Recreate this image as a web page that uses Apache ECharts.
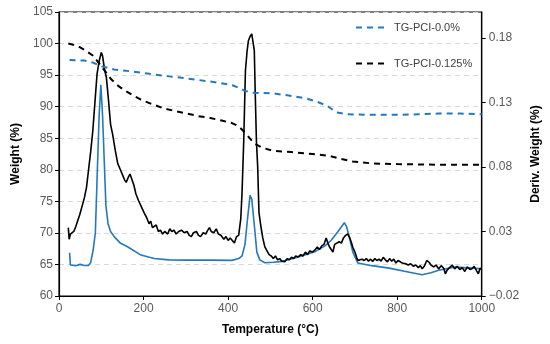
<!DOCTYPE html>
<html>
<head>
<meta charset="utf-8">
<script src="https://cdn.jsdelivr.net/npm/echarts@6/dist/echarts.min.js"></script>
<style>html,body{margin:0;padding:0;background:#fff}#c{width:550px;height:344px}</style>
</head>
<body>
<div id="c"></div>
<script>
// ---- Data ----
const tgT0 = [25,60,80,100,130,170,214,260,300,366,410,425,440,460,507,540,585,610,635,656,680,742,800,850,898,950,1000];
const tgW0 = [97.4,97.3,97.0,96.4,95.9,95.6,95.2,94.8,94.5,93.9,93.4,93.0,92.5,92.2,92.1,91.8,91.3,90.8,90.1,89.1,88.8,88.7,88.7,88.8,88.9,88.9,88.8];

const tgT125 = [22,45,65,80,92,108,124,140,155,175,194,220,249,275,303,330,358,385,409,425,441,455,464,480,507,550,600,640,663,695,742,800,900,1000];
const tgW125 = [100.0,99.6,98.8,98.1,97.1,95.7,94.3,93.3,92.6,91.8,91.1,90.4,89.7,89.3,88.9,88.5,88.2,87.8,87.4,86.9,85.8,84.7,84.1,83.5,83.0,82.8,82.5,82.2,81.8,81.3,81.0,80.9,80.8,80.8];

const dtgT0 = [25,27,40,50,52,60,70,75,81,86,90,95,99,103,107,111,116,122,131,145,163,194,225,260,303,358,409,425,433,440,446,452,456,462,468,475,487,507,527,566,605,630,644,660,675,680,688,695,707,740,781,820,859,880,898,937,970,1000];
const dtgD0 = [0.0135,0.004,0.0035,0.0045,0.0038,0.0036,0.0037,0.006,0.016,0.029,0.07,0.12,0.1437,0.12,0.085,0.05,0.036,0.03,0.0258,0.021,0.018,0.0117,0.0091,0.008,0.0078,0.0078,0.0076,0.009,0.011,0.02,0.04,0.058,0.055,0.035,0.014,0.008,0.0058,0.0062,0.0068,0.0103,0.0142,0.019,0.0232,0.03,0.0368,0.034,0.024,0.014,0.0055,0.0035,0.0016,-0.001,-0.0036,-0.002,0.0,0.0024,0.0018,0.0011];

const dtgT125 = [22,24,27,30,35,40,45,49,55,60,65,70,75,80,85,90,95,100,103,108,112,117,122,127,133,139,145,150,155,159,164,168,172,177,182,188,195,202,207,213,217,221,225,230,235,240,245,250,257,262,267,272,277,283,290,296,303,308,313,318,325,330,335,341,347,352,356,360,366,372,377,383,390,395,400,405,410,415,420,425,430,433,437,441,445,448,452,456,460,462,464,467,470,473,477,482,487,492,497,502,507,512,517,522,527,534,540,545,550,555,560,566,572,577,583,588,593,599,605,611,616,622,627,632,636,640,644,648,652,656,663,668,673,678,683,688,692,695,700,704,707,712,717,722,727,732,737,742,747,752,757,762,767,772,777,782,787,792,797,802,807,812,820,826,832,838,844,850,855,859,864,870,875,880,886,892,898,904,910,914,918,924,930,936,942,948,954,960,966,972,977,982,988,992,996,1000];
const dtgD125 = [0.033,0.024,0.028,0.027,0.030,0.034,0.039,0.043,0.050,0.056,0.064,0.078,0.092,0.108,0.130,0.152,0.162,0.1686,0.166,0.155,0.1495,0.132,0.113,0.105,0.093,0.0825,0.078,0.074,0.070,0.068,0.072,0.0745,0.073,0.066,0.059,0.054,0.049,0.044,0.041,0.036,0.038,0.033,0.032,0.035,0.030,0.031,0.028,0.030,0.028,0.032,0.030,0.031,0.028,0.030,0.031,0.029,0.030,0.027,0.026,0.029,0.030,0.027,0.026,0.029,0.028,0.031,0.033,0.030,0.029,0.032,0.028,0.027,0.024,0.026,0.023,0.025,0.023,0.021,0.026,0.027,0.040,0.060,0.100,0.1545,0.170,0.1777,0.181,0.183,0.184,0.170,0.140,0.100,0.080,0.045,0.035,0.025,0.018,0.015,0.012,0.011,0.009,0.011,0.008,0.009,0.007,0.0065,0.009,0.008,0.010,0.009,0.011,0.0103,0.012,0.011,0.014,0.012,0.015,0.014,0.0155,0.018,0.016,0.019,0.020,0.025,0.021,0.018,0.016,0.014,0.020,0.019,0.022,0.021,0.025,0.027,0.028,0.025,0.021,0.0178,0.014,0.010,0.0076,0.008,0.0085,0.0075,0.009,0.007,0.0085,0.0068,0.009,0.0075,0.0085,0.007,0.010,0.008,0.0065,0.009,0.007,0.0085,0.0055,0.0075,0.0065,0.0055,0.005,0.004,0.005,0.003,0.004,0.002,0.0035,0.0011,0.003,0.0075,0.0063,0.004,0.0025,0.004,0.001,0.0035,0.0015,-0.0028,0.000,0.002,0.004,0.001,0.003,0.0005,0.002,-0.001,0.0025,0.0005,0.0011,0.003,-0.0005,-0.0028,0.0015,0.0005];

const xTicks = [0,200,400,600,800,1000];
const leftTicks = [60,65,70,75,80,85,90,95,100,105];
const rightTicks = [-0.02,0.03,0.08,0.13,0.18];

const BLUE = '#2478bd';
const FONT = '"Liberation Sans", Arial, sans-serif';

function pairs(xs, ys){ return xs.map((x,i)=>[x, ys[i]]); }

const chart = echarts.init(document.getElementById('c'), null, {renderer:'canvas'});
chart.setOption({
  animation: false,
  backgroundColor: '#fff',
  textStyle: {fontFamily: FONT},
  grid: {left: 59, right: 65, top: 12, bottom: 48, show: true, borderColor: '#000', borderWidth: 1.2, backgroundColor: 'transparent'},
  legend: {
    data: ['TG-PCI-0.0%','TG-PCI-0.125%'],
    orient: 'vertical', left: 350, top: 17, itemGap: 25,
    itemWidth: 33, itemHeight: 10,
    itemStyle: {opacity: 0},
    textStyle: {fontSize: 11, color: '#404040', fontFamily: FONT}
  },
  xAxis: {
    type: 'value', min: 0, max: 1000, interval: 200,
    name: 'Temperature (°C)', nameLocation: 'middle', nameGap: 28,
    nameTextStyle: {fontSize: 12, fontWeight: 'bold', color: '#000', fontFamily: FONT},
    axisLine: {show: true, onZero: false, lineStyle: {color: '#000', width: 1.2}},
    axisTick: {show: true, length: 4, lineStyle: {color: '#000'}, customValues: xTicks},
    axisLabel: {fontSize: 12, color: '#595959', margin: 7, customValues: xTicks, formatter: v => String(v)},
    splitLine: {show: false}
  },
  yAxis: [{
    type: 'value', min: 60, max: 105, interval: 5, position: 'left',
    name: 'Weight (%)', nameLocation: 'middle', nameGap: 36,
    nameTextStyle: {fontSize: 12, fontWeight: 'bold', color: '#000', fontFamily: FONT},
    axisLine: {show: true, onZero: false, lineStyle: {color: '#000', width: 1.2}},
    axisTick: {show: true, length: 4, lineStyle: {color: '#000'}, customValues: leftTicks},
    axisLabel: {fontSize: 12, color: '#595959', margin: 6, customValues: leftTicks},
    splitLine: {show: true, lineStyle: {color: '#d9d9d9', type: [5,4], width: 1}}
  },{
    type: 'value', min: -0.02, max: 0.2, interval: 0.05, position: 'right',
    name: 'Deriv. Weight (%)', nameLocation: 'middle', nameGap: 46, nameRotate: 90,
    nameTextStyle: {fontSize: 12, fontWeight: 'bold', color: '#000', fontFamily: FONT},
    axisLine: {show: true, onZero: false, lineStyle: {color: '#000', width: 1.2}},
    axisTick: {show: true, length: 4, lineStyle: {color: '#000'}, customValues: rightTicks},
    axisLabel: {fontSize: 12, color: '#595959', margin: 7, customValues: rightTicks,
      formatter: v => (v < 0 ? '\u2212' : '') + Math.abs(v).toFixed(2)},
    splitLine: {show: false}
  }],
  series: [
    {name: 'DTG-PCI-0.0%', type: 'line', yAxisIndex: 1, symbol: 'none', data: pairs(dtgT0, dtgD0),
     lineStyle: {color: BLUE, width: 1.6}, itemStyle: {color: BLUE}, z: 2},
    {name: 'DTG-PCI-0.125%', type: 'line', yAxisIndex: 1, symbol: 'none', data: pairs(dtgT125, dtgD125),
     lineStyle: {color: '#000', width: 1.6}, itemStyle: {color: '#000'}, z: 3},
    {name: 'TG-PCI-0.0%', type: 'line', yAxisIndex: 0, symbol: 'none', data: pairs(tgT0, tgW0),
     lineStyle: {color: BLUE, width: 2, type: [6,5]}, itemStyle: {color: BLUE}, z: 4},
    {name: 'TG-PCI-0.125%', type: 'line', yAxisIndex: 0, symbol: 'none', data: pairs(tgT125, tgW125),
     lineStyle: {color: '#000', width: 2, type: [6,5]}, itemStyle: {color: '#000'}, z: 4}
  ]
});
</script>
</body>
</html>
